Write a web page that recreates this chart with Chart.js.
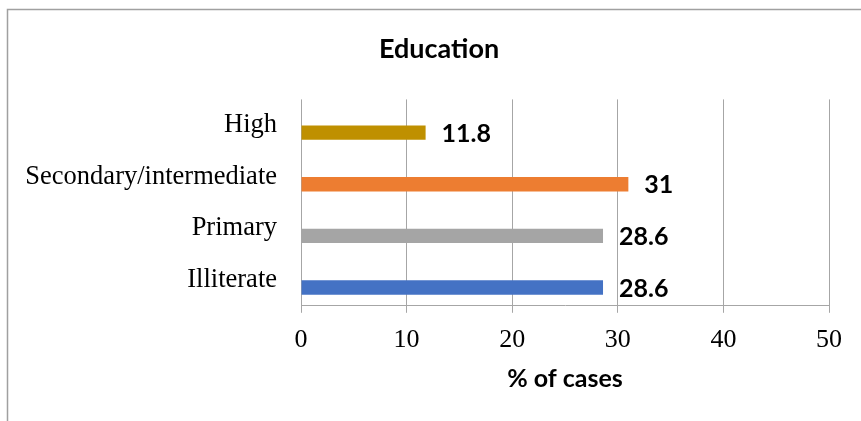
<!DOCTYPE html>
<html>
<head>
<meta charset="utf-8">
<script src="https://cdn.jsdelivr.net/npm/chart.js@4"></script>
<style>
  html, body { margin: 0; padding: 0; background: #fff; overflow: hidden; }
  #wrap { position: relative; width: 861px; height: 421px; }
  canvas { display: block; }
</style>
</head>
<body>
<div id="wrap"><canvas id="c" width="861" height="421"></canvas></div>
<script>
const categories = ["High", "Secondary/intermediate", "Primary", "Illiterate"];
const values = [11.8, 31, 28.6, 28.6];
const barColors = ["#BF9000", "#ED7D31", "#A5A5A5", "#4472C4"];
const xTicks = [0, 10, 20, 30, 40, 50];
const chartTitle = "Education";
const xTitle = "% of cases";

const frame = {
  id: 'frame',
  beforeDraw(chart) {
    const ctx = chart.ctx;
    ctx.save();
    ctx.strokeStyle = '#a0a0a0';
    ctx.lineWidth = 1.5;
    ctx.strokeRect(7.5, 9.5, 2000, 2000);
    ctx.restore();
  }
};

const valueLabels = {
  id: 'valueLabels',
  afterDatasetsDraw(chart) {
    const ctx = chart.ctx;
    ctx.save();
    ctx.font = 'bold 25px Lato';
    ctx.fillStyle = '#000';
    ctx.textAlign = 'left';
    ctx.textBaseline = 'middle';
    const ds = chart.data.datasets[1];
    chart.getDatasetMeta(1).data.forEach((bar, i) => {
      ctx.fillText(String(ds.data[i]), bar.x + 16, bar.y + 1);
    });
    ctx.restore();
  }
};

new Chart(document.getElementById('c'), {
  type: 'bar',
  data: {
    labels: categories,
    datasets: [
      { label: 'spacer', data: categories.map(() => null), backgroundColor: 'transparent' },
      { label: 'Education', data: values, backgroundColor: barColors,
        categoryPercentage: 0.58, barPercentage: 0.96 }
    ]
  },
  options: {
    indexAxis: 'y',
    responsive: false,
    animation: false,
    events: [],
    layout: { padding: { left: 20, right: 3, top: 0, bottom: 27 } },
    plugins: {
      legend: { display: false },
      tooltip: { enabled: false },
      title: {
        display: true,
        text: chartTitle,
        color: '#000',
        font: { family: 'Lato', weight: 'bold', size: 27 },
        padding: { top: 33, bottom: 34 }
      }
    },
    scales: {
      x: {
        type: 'linear',
        min: 0, max: 50,
        afterBuildTicks(scale) { scale.ticks = xTicks.map(v => ({ value: v })); },
        grid: { color: '#a6a6a6', lineWidth: 1, tickLength: 7, drawTicks: true },
        border: { display: true, color: '#a6a6a6', width: 1 },
        ticks: {
          color: '#000',
          font: { family: 'Liberation Serif', size: 26 },
          padding: 12
        },
        title: {
          display: true,
          text: xTitle,
          color: '#000',
          font: { family: 'Lato', weight: 'bold', size: 25 },
          padding: { top: -4, bottom: 0 }
        }
      },
      y: {
        grid: { display: false, drawTicks: false },
        border: { display: false },
        afterFit(scale) { scale.width = 281; },
        ticks: {
          color: '#000',
          font: { family: 'Liberation Serif', size: 26.5 },
          padding: 24
        }
      },
      yRight: {
        type: 'category',
        position: 'right',
        display: true,
        grid: { display: false, drawTicks: false },
        border: { display: false },
        ticks: { display: false },
        afterFit(scale) { scale.width = 29; }
      }
    }
  },
  plugins: [frame, valueLabels]
});
</script>
</body>
</html>
